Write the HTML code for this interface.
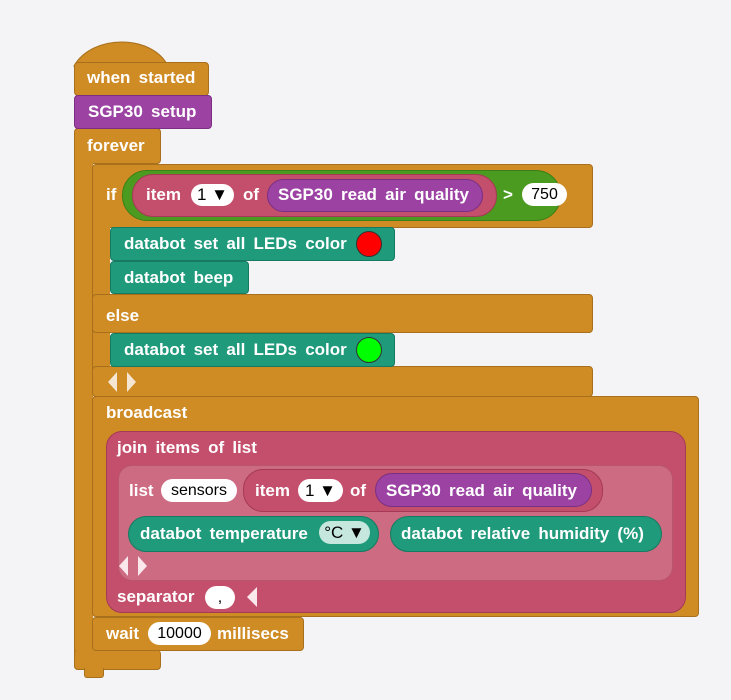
<!DOCTYPE html>
<html><head><meta charset="utf-8"><style>
body{margin:0;width:731px;height:700px;background:#f4f4f7;position:relative;overflow:hidden;font-family:"Liberation Sans",sans-serif;}
div{position:absolute;box-sizing:border-box;}
.o{background:#cf8b24;border:1px solid #a8701c;border-radius:4px;}
.p{background:#9b42a3;border:1px solid #7a2f82;}
.t{background:#1f9a7b;border:1px solid #167a60;}
.k{background:#c44f6c;border:1px solid #a43a56;}
.w{background:#fff;border-radius:12px;color:#000;font-weight:normal;font-size:16px;display:flex;align-items:center;justify-content:center;white-space:nowrap;}
.x{color:#fff;font-weight:bold;font-size:17px;white-space:nowrap;word-spacing:3.5px;line-height:20px;}
</style></head><body>
<svg style="position:absolute;left:0;top:0" width="731" height="700">
<path d="M74,66 C92,34 152,34 168,66 Z" fill="#cf8b24" stroke="#a8701c"/>
</svg>
<!-- forever C -->
<div class="o" style="left:74px;top:128px;width:87px;height:36px;"></div>
<div class="o" style="left:74px;top:150px;width:19px;height:520px;border-radius:0 0 0 4px;border-top:none;border-right:none"></div>
<div class="o" style="left:74px;top:650px;width:87px;height:20px;border-top:none"></div>
<div class="o" style="left:84px;top:668px;width:20px;height:10px;border-radius:0 0 3px 3px;border-top:none"></div>
<div class="x" style="left:87px;top:136px">forever</div>
<!-- hat -->
<div class="o" style="left:74px;top:62px;width:135px;height:34px;"></div>
<div class="x" style="left:87px;top:68px">when started</div>
<div class="p" style="left:74px;top:95px;width:138px;height:34px;border-radius:4px"></div>
<div class="x" style="left:88px;top:102px">SGP30 setup</div>
<!-- if block -->
<div class="o" style="left:92px;top:164px;width:501px;height:64px"></div>
<div class="o" style="left:92px;top:220px;width:18px;height:170px;border-radius:0;border-top:none;border-bottom:none;border-right:none"></div>
<div class="o" style="left:92px;top:294px;width:501px;height:39px"></div>
<div class="o" style="left:92px;top:366px;width:501px;height:31px"></div>
<div class="x" style="left:106px;top:185px">if</div>
<div style="left:122px;top:170px;width:439px;height:51px;background:#4b9b20;border:1px solid #3b7f18;border-radius:25px"></div>
<div class="k" style="left:132px;top:174px;width:365px;height:43px;border-radius:21px"></div>
<div class="x" style="left:146px;top:185px">item</div>
<div class="w" style="left:191px;top:184px;width:43px;height:22px;font-size:17px">1 ▼</div>
<div class="x" style="left:243px;top:185px">of</div>
<div class="p" style="left:267px;top:179px;width:216px;height:33px;border-radius:17px"></div>
<div class="x" style="left:278px;top:185px">SGP30 read air quality</div>
<div class="x" style="left:503px;top:185px">&gt;</div>
<div class="w" style="left:522px;top:183px;width:45px;height:23px">750</div>
<div class="t" style="left:110px;top:227px;width:285px;height:34px;border-radius:4px"></div>
<div class="x" style="left:124px;top:234px">databot set all LEDs color</div>
<div style="left:356px;top:231px;width:26px;height:26px;border-radius:50%;background:#f00;border:1px solid #333"></div>
<div class="t" style="left:110px;top:261px;width:139px;height:33px;border-radius:4px"></div>
<div class="x" style="left:124px;top:268px">databot beep</div>
<div class="x" style="left:106px;top:306px">else</div>
<div class="t" style="left:110px;top:333px;width:285px;height:34px;border-radius:4px"></div>
<div class="x" style="left:124px;top:340px">databot set all LEDs color</div>
<div style="left:356px;top:337px;width:26px;height:26px;border-radius:50%;background:#0f0;border:1px solid #333"></div>
<svg style="position:absolute;left:108px;top:372px" width="34" height="22"><path d="M0,10 L9,0 V20 Z M19,0 L28,10 L19,20 Z" fill="#f5e6d3"/></svg>
<!-- broadcast -->
<div class="o" style="left:92px;top:396px;width:607px;height:221px"></div>
<div class="x" style="left:106px;top:403px">broadcast</div>
<div class="k" style="left:106px;top:431px;width:580px;height:182px;border-radius:16px"></div>
<div class="x" style="left:117px;top:438px">join items of list</div>
<div style="left:118px;top:465px;width:555px;height:116px;background:#cd6b82;border:1px solid #b9566f;border-radius:14px"></div>
<div class="x" style="left:129px;top:481px">list</div>
<div class="w" style="left:161px;top:479px;width:76px;height:23px">sensors</div>
<div class="k" style="left:243px;top:469px;width:360px;height:43px;border-radius:20px"></div>
<div class="x" style="left:255px;top:481px">item</div>
<div class="w" style="left:298px;top:479px;width:45px;height:23px;font-size:17px">1 ▼</div>
<div class="x" style="left:350px;top:481px">of</div>
<div class="p" style="left:375px;top:473px;width:217px;height:34px;border-radius:17px"></div>
<div class="x" style="left:386px;top:481px">SGP30 read air quality</div>
<div class="t" style="left:128px;top:516px;width:251px;height:36px;border-radius:18px"></div>
<div class="x" style="left:140px;top:524px">databot temperature</div>
<div class="w" style="left:319px;top:521px;width:51px;height:23px;background:#c5e7dd;font-size:17px">°C ▼</div>
<div class="t" style="left:390px;top:516px;width:272px;height:36px;border-radius:18px"></div>
<div class="x" style="left:401px;top:524px">databot relative humidity (%)</div>
<svg style="position:absolute;left:119px;top:556px" width="34" height="22"><path d="M0,10 L9,0 V20 Z M19,0 L28,10 L19,20 Z" fill="#fbe8ec"/></svg>
<div class="x" style="left:117px;top:587px">separator</div>
<div class="w" style="left:205px;top:586px;width:30px;height:23px;align-items:flex-end;padding-bottom:2px">,</div>
<svg style="position:absolute;left:247px;top:587px" width="12" height="20"><path d="M0,10 L10,0 V20 Z" fill="#fbe8ec"/></svg>
<!-- wait -->
<div class="o" style="left:92px;top:617px;width:212px;height:34px"></div>
<div class="x" style="left:106px;top:624px">wait</div>
<div class="w" style="left:148px;top:622px;width:63px;height:23px">10000</div>
<div class="x" style="left:217px;top:624px">millisecs</div>
</body></html>
